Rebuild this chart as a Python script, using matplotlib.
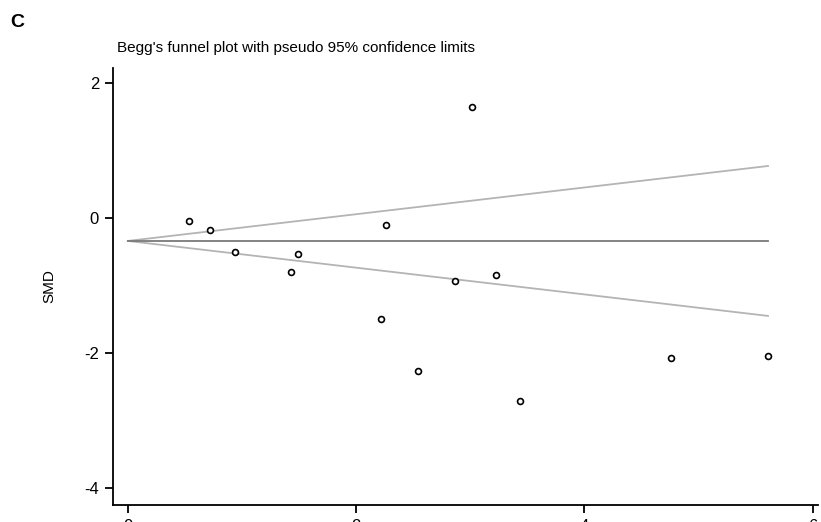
"""Begg's funnel plot (panel C)."""

import matplotlib.pyplot as plt

plt.rcParams["font.family"] = ["Liberation Sans", "DejaVu Sans"]
plt.rcParams["axes.unicode_minus"] = False

# standard error (x) and SMD (y) of each study
se = [0.54, 0.72, 0.94, 1.43, 1.49, 2.22, 2.26, 2.54, 2.87, 3.02, 3.23, 3.44, 4.76, 5.61]
smd = [-0.04, -0.18, -0.51, -0.80, -0.54, -1.49, -0.10, -2.26, -0.93, 1.64, -0.85, -2.71, -2.08, -2.05]

# pooled estimate and pseudo 95% limits (end points)
pooled_smd = -0.34
funnel_x = [0.0, 5.61]
upper_limit = [-0.34, 0.77]
lower_limit = [-0.34, -1.45]

xticks = [0, 2, 4, 6]
yticks = [-4, -2, 0, 2]

fig = plt.figure(figsize=(8.21, 5.22), dpi=100)
ax = fig.add_axes([0.1376, 0.0326, 0.859, 0.837])

ax.plot(funnel_x, upper_limit, color="#b4b4b4", lw=1.3)
ax.plot(funnel_x, lower_limit, color="#b4b4b4", lw=1.3)
ax.plot(funnel_x, [pooled_smd, pooled_smd], color="#7a7a7a", lw=1.3)
ax.scatter(se, smd, s=18, facecolors="white", edgecolors="black", linewidths=1.2, zorder=3)

ax.set_xlim(-0.13, 6.05)
ax.set_ylim(-4.25, 2.22)
ax.set_xticks(xticks)
ax.set_yticks(yticks)
ax.spines["top"].set_visible(False)
ax.spines["right"].set_visible(False)
ax.spines["left"].set_linewidth(1.3)
ax.spines["bottom"].set_linewidth(1.3)
ax.tick_params(direction="out", length=6, width=1.3, labelsize=12, pad=4)
ax.set_ylabel("SMD", fontsize=11, labelpad=20)

fig.text(0.143, 0.908, "Begg's funnel plot with pseudo 95% confidence limits", fontsize=11,
         va="center")
fig.text(0.012, 0.956, "C", fontsize=14, fontweight="bold", va="center")

fig.savefig("out.png", dpi=100)
